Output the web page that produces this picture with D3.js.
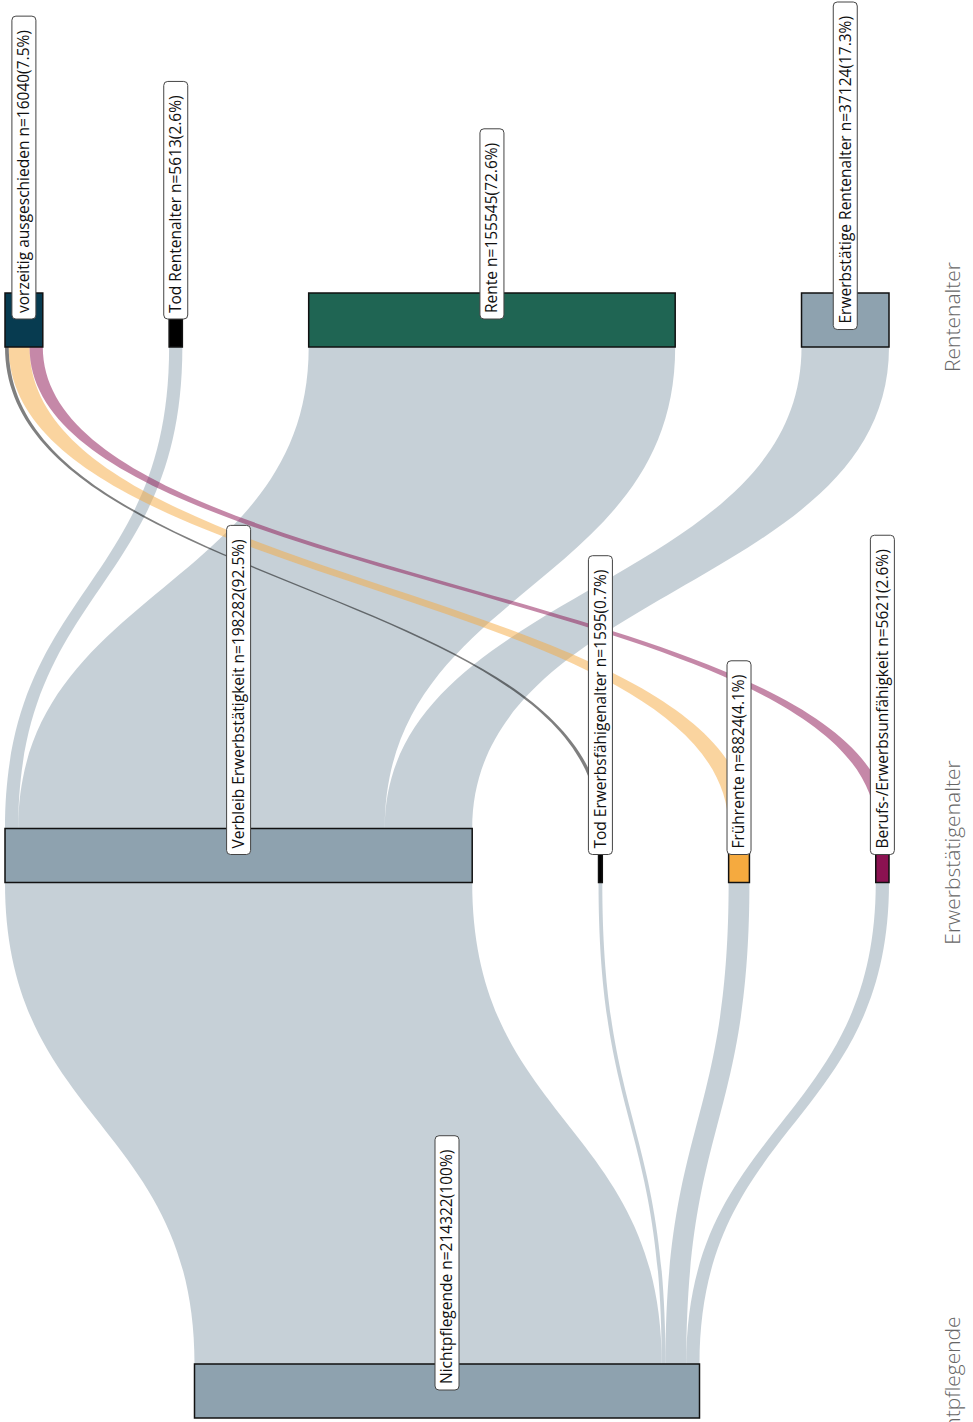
<!DOCTYPE html>
<html>
<head>
<meta charset="utf-8">
<script src="https://cdn.jsdelivr.net/npm/d3@7"></script>
<style>
  body { margin: 0; background: #fff; }
  svg { display: block; font-family: "Open Sans", "Noto Sans", sans-serif; }
</style>
</head>
<body>
<div class="visHolder"></div>
<script>
// Knoten (0 = Rentenalter oben, 1 = Erwerbstätigenalter, 2 = Nichtpflegende unten)
const nodeNames = ["Nichtpflegende", "Verbleib Erwerbstätigkeit", "Tod Erwerbsfähigenalter", "Frührente",
  "Berufs-/Erwerbsunfähigkeit", "vorzeitig ausgeschieden", "Tod Rentenalter", "Rente", "Erwerbstätige Rentenalter"];
const nodeLevels = [2, 1, 1, 1, 1, 0, 0, 0, 0];
const nodeValues = [214322, 198282, 1595, 8824, 5621, 16040, 5613, 155545, 37124];
const nodePercents = ["100%", "92.5%", "0.7%", "4.1%", "2.6%", "7.5%", "2.6%", "72.6%", "17.3%"];
const nodeColors = ["#8ea2af", "#8ea2af", "#000000", "#f5aa3f", "#8b1251", "#073b50", "#000000", "#1f6553", "#8ea2af"];

// Flüsse
const linkSources = [0, 0, 0, 0, 1, 1, 1, 2, 3, 4];
const linkTargets = [1, 2, 3, 4, 6, 7, 8, 5, 5, 5];
const linkValues = [198282, 1595, 8824, 5621, 5613, 155545, 37124, 1595, 8824, 5621];

const levelLabels = ["Rentenalter", "Erwerbstätigenalter", "Nichtpflegende"];

const w = 973;
const h = 1422;
const nodeH = 54;
const left = 5, right = 889;

const total = d3.max(nodeValues);
const wScale = d3.scaleLinear().domain([0, total]).range([0, 505]);
const yScale = d3.scaleLinear().domain([0, 2]).range([293, 1364]);

const nodes = nodeNames.map((name, i) => ({
  name, level: nodeLevels[i], value: nodeValues[i], pct: nodePercents[i], color: nodeColors[i]
}));

// Knoten pro Ebene nebeneinander verteilen
d3.groups(nodes, d => d.level).forEach(([lvl, list]) => {
  const widths = list.map(d => wScale(d.value));
  const sum = d3.sum(widths);
  const gap = list.length > 1 ? (right - left - sum) / (list.length - 1) : 0;
  let x = list.length > 1 ? left : (left + right - sum) / 2;
  list.forEach((d, k) => {
    d.x0 = x;
    d.x1 = x + widths[k];
    x = d.x1 + gap;
    d.y0 = yScale(lvl);
    d.y1 = d.y0 + nodeH;
  });
});

const links = linkSources.map((s, i) => ({
  source: nodes[s], target: nodes[linkTargets[i]], value: linkValues[i], width: wScale(linkValues[i])
}));

// Position der Flüsse an den Knotenkanten
nodes.forEach(n => {
  let xo = n.x0;
  links.filter(l => l.source === n).sort((a, b) => a.target.x0 - b.target.x0)
    .forEach(l => { l.sx = xo; xo += l.width; });
  let xi = n.x0;
  links.filter(l => l.target === n).sort((a, b) => a.source.x0 - b.source.x0)
    .forEach(l => { l.tx = xi; xi += l.width; });
});

// Fluss als Fläche zwischen zwei Kurven
function linkArea(d) {
  const sy = d.source.y0, ty = d.target.y1, my = (sy + ty) / 2;
  const p = d3.path();
  p.moveTo(d.sx, sy);
  p.bezierCurveTo(d.sx, my, d.tx, my, d.tx, ty);
  p.lineTo(d.tx + d.width, ty);
  p.bezierCurveTo(d.tx + d.width, my, d.sx + d.width, my, d.sx + d.width, sy);
  p.closePath();
  return p.toString();
}

const svg = d3.select(".visHolder").append("svg")
  .attr("width", w)
  .attr("height", h);

svg.append("g")
  .selectAll("path")
  .data(links)
  .enter()
  .append("path")
  .attr("d", linkArea)
  .attr("fill", d => d.source.color)
  .attr("fill-opacity", 0.5)
  .attr("stroke", d => d.width < 2 ? d.source.color : "none")
  .attr("stroke-opacity", 0.5)
  .attr("stroke-width", 0.6);

// Knoten
svg.append("g")
  .selectAll("rect")
  .data(nodes)
  .enter()
  .append("rect")
  .attr("x", d => d.x0)
  .attr("y", d => d.y0)
  .attr("width", d => d.x1 - d.x0)
  .attr("height", d => d.y1 - d.y0)
  .attr("fill", d => d.color)
  .attr("stroke", "#111")
  .attr("stroke-width", 1.5);

// Beschriftungen
const lab = svg.append("g")
  .selectAll("g")
  .data(nodes)
  .enter()
  .append("g");

const box = lab.append("rect")
  .attr("fill", "#fff")
  .attr("stroke", "#444")
  .attr("stroke-width", 1)
  .attr("rx", 4);

const txt = lab.append("text")
  .attr("x", 7)
  .attr("dy", "0.35em")
  .attr("font-size", 15.5)
  .attr("fill", "#111")
  .text(d => d.name + " n=" + d.value + "(" + d.pct + ")");

txt.each(function(d) { d.len = this.getComputedTextLength(); });
box.attr("x", 1)
  .attr("y", -12)
  .attr("width", d => d.len + 20)
  .attr("height", 24);

// Label mittig am Knoten, aber nicht über den oberen Rand hinaus
lab.attr("transform", d => {
  let cy = (d.y0 + d.y1) / 2;
  const top = cy - 1 - (d.len + 20);
  if (top < 2) cy += 2 - top;
  return "translate(" + ((d.x0 + d.x1) / 2) + "," + cy + ") rotate(-90)";
});

// Ebenen
svg.append("g")
  .selectAll("text")
  .data(levelLabels)
  .enter()
  .append("text")
  .attr("transform", (d, i) => "translate(960," + (yScale(i) + nodeH / 2 - 3) + ") rotate(-90)")
  .attr("text-anchor", "middle")
  .attr("font-size", 21)
  .attr("font-weight", 300)
  .attr("fill", "#666")
  .text(d => d);
</script>
</body>
</html>
